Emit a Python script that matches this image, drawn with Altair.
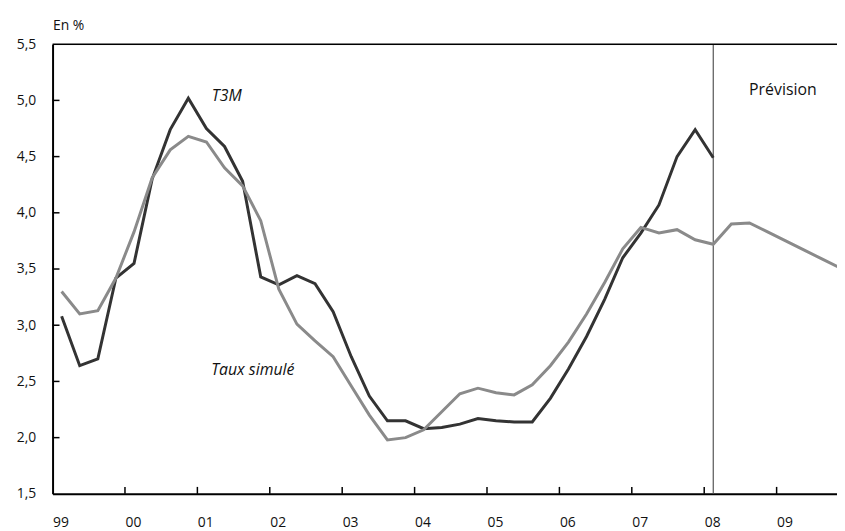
import altair as alt
import pandas as pd

# Quarterly data, 1999T1 onwards
years = list(range(1999, 2010))
quarters = [1, 2, 3, 4]

t3m = [3.08, 2.64, 2.70, 3.42,
       3.55, 4.30, 4.74, 5.02,
       4.75, 4.59, 4.28, 3.43,
       3.36, 3.44, 3.37, 3.12,
       2.72, 2.37, 2.15, 2.15,
       2.08, 2.09, 2.12, 2.17,
       2.15, 2.14, 2.14, 2.35,
       2.61, 2.90, 3.23, 3.60,
       3.82, 4.07, 4.50, 4.74,
       4.49]

simule = [3.30, 3.10, 3.13, 3.42,
          3.83, 4.31, 4.56, 4.68,
          4.63, 4.40, 4.24, 3.93,
          3.32, 3.01, 2.86, 2.72,
          2.46, 2.20, 1.98, 2.00,
          2.07, 2.23, 2.39, 2.44,
          2.40, 2.38, 2.47, 2.64,
          2.85, 3.10, 3.38, 3.68,
          3.87, 3.82, 3.85, 3.76,
          3.72, 3.90, 3.91, 3.83,
          3.75, 3.67, 3.59, 3.51]

y_ticks = [2.0, 2.5, 3.0, 3.5, 4.0, 4.5, 5.0]
x_ticks = [2000, 2001, 2002, 2003, 2004, 2005, 2006, 2007, 2008, 2009]
forecast_start = [2008.125]

ann_italic_labels = ["T3M", "Taux simulé"]
ann_italic_x = [2001.2, 2001.19]
ann_italic_y = [5.04, 2.60]
ann_normal_labels = ["Prévision"]
ann_normal_x = [2008.62]
ann_normal_y = [5.09]

periods = [y + (q - 0.5) / 4 for y in years for q in quarters]

df = pd.concat([
    pd.DataFrame({"t": periods[:len(t3m)], "v": t3m, "s": "T3M"}),
    pd.DataFrame({"t": periods[:len(simule)], "v": simule, "s": "Taux simulé"}),
])

W, H = 792, 454
FONT = "Open Sans"

xscale = alt.Scale(domain=[1999, 2009.834], nice=False, zero=False)
yscale = alt.Scale(domain=[1.5, 5.5], nice=False, zero=False)

lines = alt.Chart(df).mark_line(strokeWidth=3, clip=True).encode(
    x=alt.X("t:Q", scale=xscale,
            axis=alt.Axis(values=years, ticks=False, grid=False, title=None,
                          domainColor="black", domainWidth=2,
                          labelExpr="slice(toString(datum.value), 2)",
                          labelAlign="left", labelBaseline="middle",
                          labelPadding=29, labelFontSize=14, labelFont=FONT,
                          labelColor="#111111", labelFlush=False)),
    y=alt.Y("v:Q", scale=yscale,
            axis=alt.Axis(values=[1.5] + y_ticks + [5.5], ticks=False, grid=False,
                          domainColor="black", domainWidth=2,
                          labelExpr="replace(format(datum.value, '.1f'), '.', ',')",
                          labelPadding=17, labelFontSize=14, labelFont=FONT,
                          labelColor="#111111",
                          title="En %", titleAngle=0, titleAlign="left",
                          titleBaseline="middle", titleX=0, titleY=-19,
                          titleFontSize=14, titleFontWeight="normal",
                          titleFont=FONT, titleColor="#111111")),
    color=alt.Color("s:N", scale=alt.Scale(domain=["T3M", "Taux simulé"],
                                           range=["#333333", "#8a8a8a"]),
                    legend=None),
    order=alt.Order("s:N", sort="descending"),
)

ytick_rules = alt.Chart(pd.DataFrame({"v": y_ticks})).mark_rule(
    color="black", strokeWidth=1.5).encode(
    y=alt.Y("v:Q", scale=yscale), x=alt.value(0), x2=alt.value(7))

xtick_rules = alt.Chart(pd.DataFrame({"t": x_ticks})).mark_rule(
    color="black", strokeWidth=1.5).encode(
    x=alt.X("t:Q", scale=xscale), y=alt.value(H), y2=alt.value(H - 7))

top_line = alt.Chart(pd.DataFrame({"v": [5.5]})).mark_rule(
    color="black", strokeWidth=1.5).encode(
    y=alt.Y("v:Q", scale=yscale), x=alt.value(0), x2=alt.value(W))

vline = alt.Chart(pd.DataFrame({"t": forecast_start})).mark_rule(
    color="#555555", strokeWidth=1.2).encode(
    x=alt.X("t:Q", scale=xscale), y=alt.value(0), y2=alt.value(H))

txt_it = alt.Chart(pd.DataFrame({"l": ann_italic_labels, "t": ann_italic_x,
                                 "v": ann_italic_y})).mark_text(
    font=FONT, fontSize=16, fontStyle="italic", align="left",
    baseline="middle", color="#111111").encode(
    x=alt.X("t:Q", scale=xscale), y=alt.Y("v:Q", scale=yscale), text="l:N")

txt_n = alt.Chart(pd.DataFrame({"l": ann_normal_labels, "t": ann_normal_x,
                                "v": ann_normal_y})).mark_text(
    font=FONT, fontSize=16, align="left", baseline="middle",
    color="#111111").encode(
    x=alt.X("t:Q", scale=xscale), y=alt.Y("v:Q", scale=yscale), text="l:N")

chart = alt.layer(vline, lines, ytick_rules, xtick_rules, top_line, txt_it, txt_n).properties(
    width=W, height=H,
    autosize=alt.AutoSizeParams(type="none"),
    padding={"left": 45, "top": 34, "right": 0, "bottom": 37},
).configure_view(stroke=None).configure(background="white")

chart.save("out.html", embed_options={"renderer": "svg", "actions": False})
